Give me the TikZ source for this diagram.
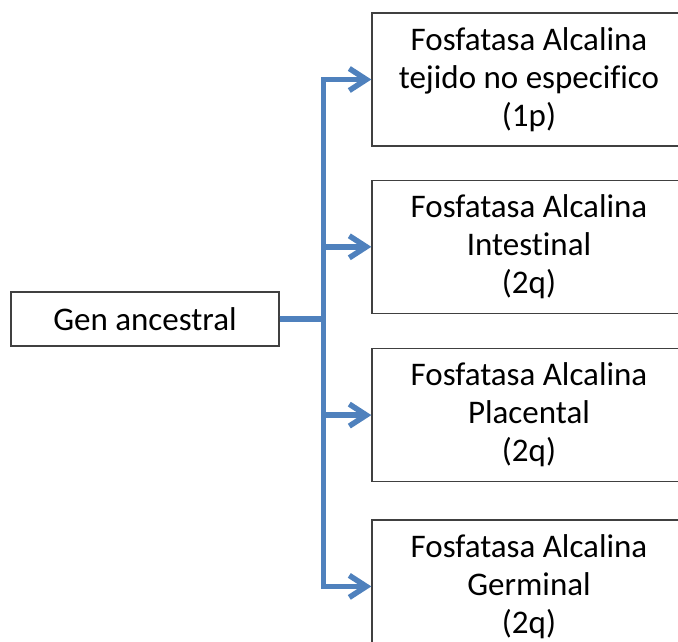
\documentclass[tikz,border=0pt]{standalone}
\usepackage{fontspec}
\setmainfont{Carlito}[Ligatures={NoCommon}]
\usetikzlibrary{arrows.meta, positioning, calc}
\definecolor{fosfblue}{RGB}{79,129,189}

\begin{document}
\begin{tikzpicture}[
        x=1pt, y=-1pt,
        font=\fontsize{33}{38}\selectfont, node distance=34pt,
        box/.style={draw=black!75, line width=1.3pt, minimum width=314pt, minimum height=133pt, align=center, inner sep=0pt},
        genbox/.style={draw=black!75, line width=1.3pt, minimum width=268pt, minimum height=54pt, inner sep=0pt},
        arr/.style={line width=5.5pt, fosfblue, line join=miter, -{Straight Barb[length=17pt, width=22pt]}}
    ]
        \useasboundingbox (0,0) rectangle (678,641);
        \clip (0,0) rectangle (678,641);

        \node[genbox] (gen) at (145,319) {Gen ancestral};
        \node[box] (tnes) at (529,79.5) {Fosfatasa Alcalina\\tejido no especifico\\(1p)};
        \node[box, below=33pt of tnes] (intes) {Fosfatasa Alcalina\\Intestinal\\(2q)};
        \node[box, below=of intes] (plac) {Fosfatasa Alcalina\\Placental\\(2q)};
        \node[box, below=37pt of plac] (germ) {Fosfatasa Alcalina\\Germinal\\(2q)};

        \coordinate (trunk) at ($(gen.east)+(44,0)$);

        \foreach \dest in {tnes, intes, plac, germ}
            \draw[arr] (gen.east) -- (trunk) |- (\dest.west);
    \end{tikzpicture}
\end{document}
